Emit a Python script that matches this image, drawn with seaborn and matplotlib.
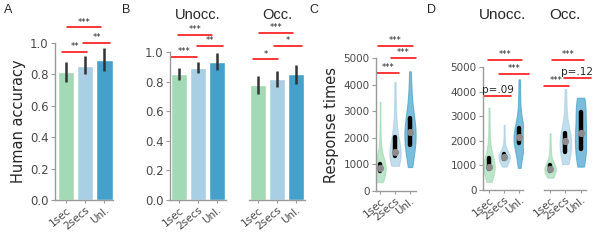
import numpy as np
import pandas as pd
import seaborn as sns
import matplotlib.pyplot as plt

# categories and colours
conds = ["1sec", "2secs", "Unl."]
palette = ["#a1dab4", "#a8cfe4", "#43a1cb"]

# human accuracy (mean, lower and upper error)
acc_all = [0.815, 0.855, 0.893]
acc_all_lo = [0.75, 0.80, 0.82]
acc_all_hi = [0.88, 0.92, 0.965]

acc_unocc = [0.85, 0.89, 0.93]
acc_unocc_lo = [0.81, 0.855, 0.875]
acc_unocc_hi = [0.89, 0.93, 0.99]

acc_occ = [0.775, 0.815, 0.85]
acc_occ_lo = [0.715, 0.765, 0.785]
acc_occ_hi = [0.84, 0.87, 0.915]

# response times (ms)
rt_all = {
    "1sec": [330, 500, 620, 700, 750, 770, 800, 820, 850, 860, 880, 900, 930, 960, 1000, 1100, 1300, 1700, 2400, 3350],
    "2secs": [950, 1050, 1150, 1200, 1270, 1320, 1350, 1400, 1430, 1450, 1480, 1550, 1700, 1850, 2000, 2150, 2400, 2800, 3300, 4100],
    "Unl.": [900, 1100, 1300, 1500, 1650, 1750, 1850, 1950, 2050, 2150, 2250, 2350, 2450, 2600, 2700, 2900, 3100, 3400, 3900, 4500],
}
rt_unocc = {
    "1sec": [330, 500, 650, 750, 830, 860, 880, 900, 910, 920, 950, 1000, 1100, 1200, 1280, 1400, 1600, 2000, 2600, 3350],
    "2secs": [950, 1050, 1120, 1180, 1230, 1260, 1290, 1310, 1330, 1350, 1370, 1390, 1410, 1430, 1450, 1500, 1600, 1800, 2150, 2650],
    "Unl.": [900, 1200, 1450, 1650, 1850, 1920, 1980, 2030, 2080, 2120, 2170, 2230, 2300, 2400, 2480, 2650, 2900, 3300, 3900, 4500],
}
rt_occ = {
    "1sec": [500, 580, 640, 700, 760, 790, 810, 830, 840, 850, 860, 880, 910, 950, 1000, 1050, 1200, 1450, 1800, 2300],
    "2secs": [1050, 1150, 1250, 1350, 1450, 1550, 1650, 1750, 1850, 1950, 2050, 2120, 2180, 2230, 2280, 2400, 2650, 3000, 3500, 4100],
    "Unl.": [950, 1050, 1200, 1400, 1550, 1700, 1850, 2000, 2150, 2250, 2350, 2500, 2700, 2900, 3150, 3300, 3450, 3550, 3650, 3750],
}

# significance bars: (x start, x end, height, label)
sig_a = [(-0.2, 1.1, 0.945, "**"), (0.9, 2.3, 1.0, "**"), (0.05, 1.8, 1.10, "***")]
sig_b1 = [(-0.4, 0.95, 0.966, "***"), (0.95, 2.3, 1.04, "**"), (-0.05, 1.75, 1.115, "***")]
sig_b2 = [(-0.25, 1.05, 0.95, "*"), (0.85, 2.3, 1.04, "*"), (0.05, 1.85, 1.128, "***")]
sig_c = [(-0.2, 1.27, 4436, "***"), (0.73, 2.4, 5000, "***"), (-0.13, 2.2, 5450, "***")]
sig_d1 = [(-0.33, 1.47, 3833, "p=.09"), (0.67, 2.67, 4715, "***"), (-0.07, 2.2, 5285, "***")]
sig_d2 = [(-0.39, 1.23, 4228, "***"), (0.9, 2.65, 4553, "p=.12"), (0.13, 2.2, 5285, "***")]

sns.set_style("ticks")
plt.rcParams.update({
    "font.family": ["DejaVu Sans"],
    "axes.edgecolor": "#9a9a9a",
    "xtick.color": "#9a9a9a",
    "ytick.color": "#9a9a9a",
    "xtick.labelcolor": "#4a4a4a",
    "ytick.labelcolor": "#4a4a4a",
    "axes.linewidth": 1.0,
})

W, H = 598, 245
fig = plt.figure(figsize=(W / 100, H / 100), dpi=100)


def px_axes(l, t, r, b):
    return fig.add_axes([l / W, 1 - b / H, (r - l) / W, (b - t) / H])


def style(ax, left=True):
    sns.despine(ax=ax, left=not left)
    ax.tick_params(axis="y", labelsize=8.5, length=3, width=0.8, pad=1.5, labelcolor="#4a4a4a")
    ax.tick_params(axis="x", labelsize=7.5, length=2.5, width=0.8, pad=1, labelcolor="#4a4a4a")
    ax.set_xlabel("")
    ax.set_ylabel("")
    ax.set_xticks(range(len(conds)))
    ax.set_xticklabels(conds, rotation=40, ha="right", rotation_mode="anchor")
    if not left:
        ax.set_yticks([])


def sig(ax, bars, size=6):
    for x1, x2, y, lab in bars:
        ax.plot([x1, x2], [y, y], color="red", lw=1.1, clip_on=False)
        fs = 7.5 if lab.startswith("p") else size
        ax.annotate(lab, (np.mean([x1, x2]), y), xytext=(0, 0.5), textcoords="offset points",
                    ha="center", va="bottom", fontsize=fs, annotation_clip=False)


def bars(ax, means, lo, hi):
    sns.barplot(x=conds, y=means, hue=conds, palette=palette, saturation=1,
                width=0.85, legend=False, ax=ax)
    ax.vlines(range(len(conds)), lo, hi, color="#333333", lw=1.8)
    ax.set_ylim(0, 1.0)
    ax.set_yticks([0, 0.2, 0.4, 0.6, 0.8, 1.0])


def violins(ax, rt):
    df = pd.DataFrame([(c, v) for c in conds for v in rt[c]], columns=["cond", "rt"])
    sns.violinplot(data=df, x="cond", y="rt", hue="cond", palette=palette, saturation=1,
                   inner="box", cut=0, density_norm="width", width=0.75, linewidth=0.8,
                   linecolor="black", legend=False, bw_adjust=1.0,
                   inner_kws=dict(box_width=3.2, whis_width=0, marker="o"), ax=ax)
    for coll, c in zip(ax.collections, palette):
        coll.set_facecolor(c)
        coll.set_alpha(0.7)
        coll.set_edgecolor(c)
    for ln in ax.lines:
        if ln.get_marker() == "o":
            ln.set_markerfacecolor("#8c8c8c")
            ln.set_markeredgecolor("#8c8c8c")
            ln.set_markersize(4.5)
    ax.set_ylim(0, 5000)
    ax.set_yticks([0, 1000, 2000, 3000, 4000, 5000])


# A
axA = px_axes(55, 43, 113, 200)
bars(axA, acc_all, acc_all_lo, acc_all_hi)
style(axA)
axA.set_xlim(-0.58, 2.45)
axA.set_ylabel("Human accuracy", fontsize=10.5, labelpad=3)
sig(axA, sig_a)

# B
axB1 = px_axes(170, 52, 226, 200)
bars(axB1, acc_unocc, acc_unocc_lo, acc_unocc_hi)
style(axB1)
axB1.set_xlim(-0.47, 2.47)
sig(axB1, sig_b1)
axB1.text(0.5, 1.25, "Unocc.", transform=axB1.transAxes, ha="center", va="center",
          fontsize=10.5, family="Liberation Sans")

axB2 = px_axes(249, 52, 305, 200)
bars(axB2, acc_occ, acc_occ_lo, acc_occ_hi)
style(axB2, left=False)
axB2.set_xlim(-0.47, 2.47)
sig(axB2, sig_b2)
axB2.text(0.5, 1.25, "Occ.", transform=axB2.transAxes, ha="center", va="center",
          fontsize=10.5, family="Liberation Sans")

# C
axC = px_axes(376, 58, 416, 191)
violins(axC, rt_all)
style(axC)
axC.set_xlim(-0.27, 2.4)
axC.tick_params(axis="y", labelsize=7.5)
axC.set_ylabel("Response times", fontsize=10.5, labelpad=3)
sig(axC, sig_c)

# D
axD1 = px_axes(483, 67, 523, 190)
violins(axD1, rt_unocc)
style(axD1)
axD1.set_xlim(-0.4, 2.25)
axD1.tick_params(axis="y", labelsize=7.5)
sig(axD1, sig_d1)
axD1.text(0.5, 1.42, "Unocc.", transform=axD1.transAxes, ha="center", va="center",
          fontsize=11, family="Liberation Sans")

axD2 = px_axes(544, 67, 586, 190)
violins(axD2, rt_occ)
style(axD2, left=False)
axD2.set_xlim(-0.4, 2.35)
sig(axD2, sig_d2)
axD2.text(0.5, 1.42, "Occ.", transform=axD2.transAxes, ha="center", va="center",
          fontsize=11, family="Liberation Sans")

# panel letters
for x, lab in [(8, "A"), (126, "B"), (314, "C"), (432, "D")]:
    fig.text(x / W, 1 - 10 / H, lab, fontsize=9, family="Liberation Sans",
             ha="center", va="center")

fig.savefig("out.png", dpi=100)
